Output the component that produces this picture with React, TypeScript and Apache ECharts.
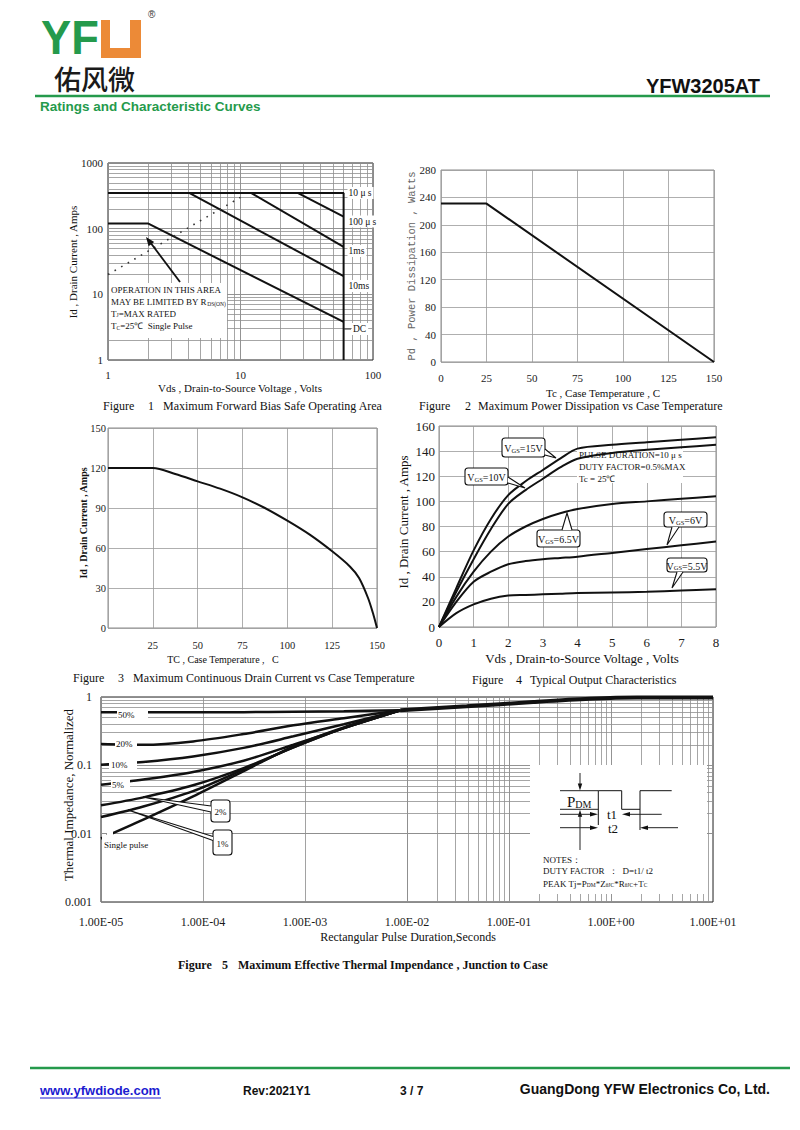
import React, { useEffect, useRef } from "react";
import * as echarts from "echarts";

const SERIF = '"Liberation Serif", "Times New Roman", serif';
const SANS = '"Liberation Sans", Arial, sans-serif';
const MONO = '"Liberation Mono", "DejaVu Sans Mono", monospace';
const GREEN = "#259a4c";
const ORANGE = "#ec8a37";

// ---------- Figure 1: Safe operating area (log / log) ----------
const f1XTicks = ["1", "10", "100"];
const f1YTicks = ["1", "10", "100", "1000"];
const f1TopX = [1, 60.5];
const f1TopY = [350, 350];
const f1Us10X = [27, 60];
const f1Us10Y = [350, 152];
const f1Us100X = [12, 60];
const f1Us100Y = [350, 53];
const f1Ms1X = [4.1, 60];
const f1Ms1Y = [350, 19];
const f1DcX = [1, 2, 60];
const f1DcY = [120, 120, 3.8];
const f1VX = [60, 60];
const f1VY = [1, 350];
const f1RdsX = [1, 10];
const f1RdsY = [20, 300];
const f1Labels = ["10 μ s", "100 μ s", "1ms", "10ms", "DC"];

// ---------- Figure 2: Power dissipation ----------
const f2XTicks = ["0", "25", "50", "75", "100", "125", "150"];
const f2Tc = [0, 25, 150];
const f2Pd = [231, 231, 0];

// ---------- Figure 3: Continuous drain current ----------
const f3XTicks = ["", "25", "50", "75", "100", "125", "150"];
const f3Tc = [0, 25, 37.5, 50, 62.5, 75, 87.5, 100, 112.5, 125, 135, 140, 145, 148, 150];
const f3Id = [120, 120, 115.5, 110, 104.5, 98, 90, 80.5, 70, 57.5, 46, 37.5, 22.5, 10, 0];

// ---------- Figure 4: Output characteristics ----------
const f4Vds = [0, 0.5, 1, 1.5, 2, 2.5, 3, 3.5, 4, 5, 6, 7, 8];
const f4Vgs15 = [0, 31, 61, 86, 105, 116, 125, 134, 142, 145, 147, 149, 151];
const f4Vgs10 = [0, 28, 54, 78, 98, 109, 118, 127, 134, 138.5, 141, 143, 145];
const f4Vgs65 = [0, 24, 44, 60, 72, 80, 86, 90.5, 94, 98, 100, 102, 104];
const f4Vgs6 = [0, 20, 36, 44, 50, 52.5, 54, 55, 56, 59, 62, 65, 68];
const f4Vgs55 = [0, 11, 18, 22.5, 25, 25.5, 26, 26.5, 27, 27.5, 28, 29, 30];

// ---------- Figure 5: Thermal impedance ----------
const f5XTicks = ["1.00E-05", "1.00E-04", "1.00E-03", "1.00E-02", "1.00E-01", "1.00E+00", "1.00E+01"];
const f5YTicks = ["0.001", "0.01", "0.1", "1"];
const f5T = [1e-5, 2.6e-5, 8e-5, 2.5e-4, 7.7e-4, 2.4e-3, 8.6e-3];
const f5D50 = [0.6, 0.6, 0.6, 0.6, 0.61, 0.62, 0.64];
const f5D20 = [0.205, 0.2, 0.224, 0.287, 0.385, 0.49, 0.64];
const f5D10 = [0.102, 0.112, 0.135, 0.18, 0.266, 0.4, 0.64];
const f5D5 = [0.052, 0.062, 0.08, 0.117, 0.2, 0.35, 0.64];
const f5D2 = [0.026, 0.034, 0.051, 0.091, 0.183, 0.35, 0.64];
const f5D1 = [0.0175, 0.025, 0.042, 0.087, 0.183, 0.35, 0.64];
const f5Single = [0.0085, 0.016, 0.035, 0.082, 0.19, 0.36, 0.64];
const f5TailT = [8.6e-3, 0.0385, 0.173, 0.62, 1.8, 10];
const f5TailZ = [0.64, 0.73, 0.845, 0.94, 0.98, 0.98];

const pairs = (xs: number[], ys: number[]) => xs.map((x, i) => [x, ys[i]]);

const logMinor = (lo: number, hi: number) => {
  const out: number[] = [];
  for (let d = lo; d < hi; d++) {
    for (let k = 1; k <= 9; k++) {
      if (k === 1 && d === lo) continue;
      out.push(k * Math.pow(10, d));
    }
  }
  return out;
};

const curve = (xi: number, xs: number[], ys: number[], extra: any = {}) => ({
  type: "line",
  xAxisIndex: xi,
  yAxisIndex: xi,
  data: pairs(xs, ys),
  symbol: "none",
  silent: true,
  z: 3,
  lineStyle: { color: "#111", width: 2 },
  ...extra,
});

const gridLines = (xi: number, xv: number[], yv: number[], color: string) => ({
  type: "line",
  xAxisIndex: xi,
  yAxisIndex: xi,
  data: [],
  silent: true,
  z: 1,
  markLine: {
    silent: true,
    z: 1,
    symbol: ["none", "none"],
    label: { show: false },
    emphasis: { disabled: true },
    lineStyle: { color, width: 0.8, type: "solid" },
    data: [...xv.map((v) => ({ xAxis: v })), ...yv.map((v) => ({ yAxis: v }))],
  },
});

const T = (x: number, y: number, text: string, o: any = {}) => ({
  type: "text",
  x,
  y,
  z: o.z ?? 10,
  rotation: o.rot ?? 0,
  scaleX: o.sx ?? 1,
  scaleY: o.sy ?? 1,
  silent: true,
  style: {
    text,
    x: 0,
    y: 0,
    fill: o.fill ?? "#111",
    fontSize: o.size ?? 11,
    fontFamily: o.family ?? SERIF,
    fontWeight: o.weight ?? "normal",
    lineHeight: o.lh,
    align: o.align ?? "left",
    textAlign: o.align ?? "left",
    verticalAlign: "middle",
    textVerticalAlign: "middle",
    rich: o.rich,
    backgroundColor: o.bg,
    padding: o.pad,
  },
});
const L = (x1: number, y1: number, x2: number, y2: number, w = 1, color = "#111", z = 10) => ({
  type: "line",
  z,
  silent: true,
  shape: { x1, y1, x2, y2 },
  style: { stroke: color, lineWidth: w },
});
const R = (x: number, y: number, w: number, h: number, fill: string, z = 5, extra: any = {}) => ({
  type: "rect",
  z,
  silent: true,
  shape: { x, y, width: w, height: h, r: extra.r ?? 0 },
  style: { fill, stroke: extra.stroke, lineWidth: extra.lw ?? 1 },
});
const PG = (pts: number[][], fill: string, z = 10) => ({
  type: "polygon",
  z,
  silent: true,
  shape: { points: pts },
  style: { fill, stroke: null },
});
const PL = (pts: number[][], w = 1, z = 10) => ({
  type: "polyline",
  z,
  silent: true,
  shape: { points: pts },
  style: { stroke: "#111", lineWidth: w, fill: null },
});

const subRich = (big: number, small: number) => ({
  a: { fontSize: big, fontFamily: SERIF, fill: "#111", lineHeight: big + 2, verticalAlign: "bottom" },
  s: { fontSize: small, fontFamily: SERIF, fill: "#111", lineHeight: big + 2, verticalAlign: "bottom" },
});

const callout = (box: number[], tip: number[], b1: number[], b2: number[], text: string, rich: any, textSize = 10) => [
  R(box[0], box[1], box[2], box[3], "#fff", 20, { stroke: "#111", lw: 1.1, r: 3 }),
  PG([b1, tip, b2], "#fff", 21),
  PL([b1, tip, b2], 1.1, 22),
  T(box[0] + box[2] / 2, box[1] + box[3] / 2, text, { align: "center", rich, z: 23, size: textSize }),
];

const arrowHead = (tip: number[], dir: number[], len = 8, half = 3) => {
  const n = Math.hypot(dir[0], dir[1]);
  const ux = dir[0] / n, uy = dir[1] / n;
  const bx = tip[0] - ux * len, by = tip[1] - uy * len;
  return [tip, [bx + uy * half, by - ux * half], [bx - uy * half, by + ux * half]];
};

export default function App() {
  const ref = useRef<HTMLDivElement>(null);
  useEffect(() => {
    if (!ref.current) return;
    const chart = echarts.init(ref.current, undefined, { renderer: "svg" });

    const lbl = (size: number, extra: any = {}) => ({
      fontFamily: SERIF,
      fontSize: size,
      color: "#1a1a1a",
      showMinLabel: true,
      showMaxLabel: true,
      ...extra,
    });
    const noLine = { axisLine: { show: false }, axisTick: { show: false } };
    const lin = (min: number, max: number, interval: number, size: number, margin: number, extra: any = {}) => ({
      type: "value",
      min,
      max,
      interval,
      ...noLine,
      splitLine: { show: true, lineStyle: { color: "#9a9a9a", width: 0.8 } },
      axisLabel: lbl(size, { margin, ...(extra.label || {}) }),
      gridIndex: extra.gridIndex,
    });
    const logAx = (min: number, max: number, ticks: string[], size: number, margin: number, gridIndex: number) => ({
      type: "log",
      logBase: 10,
      min,
      max,
      gridIndex,
      ...noLine,
      splitLine: { show: true, lineStyle: { color: "#8a8a8a", width: 0.8 } },
      axisLabel: lbl(size, {
        margin,
        formatter: (v: number) => ticks[Math.round(Math.log10(v) - Math.log10(min))] ?? "",
      }),
    });

    const f1Labs = [193, 221.5, 251, 286, 329];
    const f1Lab = f1Labels.map((t, i) =>
      T(i === 4 ? 352 : 347.5, f1Labs[i], t, { size: 9.5, bg: "#fff", pad: [1, 2, 1, 1], z: 8 })
    );

    const graphics: any[] = [
      // ---------- header ----------
      T(41, 38, "YF", { family: SANS, weight: "bold", size: 40, sx: 1.13, sy: 1.18, fill: GREEN }),
      R(101, 20, 40, 38, ORANGE, 10),
      R(110, 20, 20, 28, "#fff", 11),
      T(148, 14, "®", { family: SANS, size: 10, fill: "#333" }),
      T(54, 78, "佑风微", { family: '"Noto Sans CJK SC", sans-serif', size: 27, fill: "#1a1a1a", weight: 500 }),
      T(760, 86, "YFW3205AT", { family: SANS, weight: "bold", size: 20, align: "right", fill: "#111" }),
      L(35, 96, 770, 96, 2.5, GREEN),
      T(40, 106, "Ratings and Characteristic Curves", { family: SANS, weight: "bold", size: 13.5, fill: GREEN }),

      // ---------- footer ----------
      L(30, 1068, 790, 1068, 2.5, GREEN),
      T(40, 1090, "www.yfwdiode.com", { family: SANS, weight: "bold", size: 13, fill: "#1b1bd0" }),
      L(40, 1098, 161, 1098, 1, "#1b1bd0"),
      T(243, 1091, "Rev:2021Y1", { family: SANS, weight: "bold", size: 12 }),
      T(400, 1091, "3 / 7", { family: SANS, weight: "bold", size: 12 }),
      T(770, 1089, "GuangDong YFW Electronics Co, Ltd.", { family: SANS, weight: "bold", size: 14, align: "right" }),

      // ---------- figure 1 ----------
      T(73, 262, "Id , Drain Current , Amps", { size: 11, rot: Math.PI / 2, align: "center" }),
      T(240, 388, "Vds , Drain-to-Source Voltage , Volts", { size: 11, align: "center" }),
      T(103, 406, "Figure", { size: 12 }),
      T(148, 406, "1", { size: 12 }),
      T(163, 406, "Maximum Forward Bias Safe Operating Area", { size: 12 }),
      ...f1Lab,
      L(344, 329, 351, 329, 1, "#333", 9),
      R(109, 283, 118, 55, "#fff", 5),
      T(111, 289.5, "OPERATION IN THIS AREA", { size: 9 }),
      T(111, 301, "{a|MAY BE LIMITED BY R}{s|DS(ON)}", { rich: subRich(9, 5.5) }),
      T(111, 312.5, "{a|T}{s|J}{a|=MAX RATED}", { rich: subRich(9, 5.5) }),
      T(111, 325, "{a|T}{s|C}{a|=25℃  Single Pulse}", { rich: subRich(9, 5.5) }),
      L(180, 282, 150, 242, 1.8, "#111", 9),
      PG(arrowHead([146, 237], [-33, -44], 9, 3.5), "#111", 9),

      // ---------- figure 2 ----------
      T(412, 266, "Pd , Power Dissipation , Watts", { size: 10.5, family: MONO, fill: "#666", rot: Math.PI / 2, align: "center" }),
      T(603, 393, "Tc , Case Temperature , C", { size: 11, align: "center" }),
      T(419, 406, "Figure", { size: 12 }),
      T(465, 406, "2", { size: 12 }),
      T(478, 406, "Maximum Power Dissipation vs Case Temperature", { size: 12 }),

      // ---------- figure 3 ----------
      T(83, 523, "Id , Drain Current , Amps", { size: 10, weight: "bold", rot: Math.PI / 2, align: "center" }),
      T(223, 659, "TC , Case Temperature ,   C", { size: 10, align: "center" }),
      T(73, 678, "Figure", { size: 12 }),
      T(118, 678, "3", { size: 12 }),
      T(133, 678, "Maximum Continuous Drain Current vs Case Temperature", { size: 12 }),

      // ---------- figure 4 ----------
      T(403, 522, "Id , Drain Current , Amps", { size: 13, rot: Math.PI / 2, align: "center" }),
      T(582, 658, "Vds , Drain-to-Source Voltage , Volts", { size: 13, align: "center" }),
      T(472, 680, "Figure", { size: 12 }),
      T(516, 680, "4", { size: 12 }),
      T(530, 680, "Typical Output Characteristics", { size: 12 }),
      R(577, 449, 106, 34, "#fff", 2),
      T(579, 455, "PULSE DURATION=10 μ s", { size: 9 }),
      T(579, 467, "DUTY FACTOR=0.5%MAX", { size: 9 }),
      T(579, 478.5, "Tc = 25℃", { size: 9 }),
      ...callout([502, 438, 43, 19], [556, 458], [545, 449], [545, 455], "{a|V}{s|GS}{a|=15V}", subRich(10, 6.5)),
      ...callout([465, 468, 43, 17], [525, 488], [508, 477], [508, 483], "{a|V}{s|GS}{a|=10V}", subRich(10, 6.5)),
      ...callout([537, 530, 43, 17], [567, 513], [572, 530], [562, 530], "{a|V}{s|GS}{a|=6.5V}", subRich(10, 6.5)),
      ...callout([664, 512, 43, 15], [667, 545], [672, 527], [679, 527], "{a|V}{s|GS}{a|=6V}", subRich(10, 6.5)),
      ...callout([667, 558, 40, 14], [672, 588], [677, 572], [683, 572], "{a|V}{s|GS}{a|=5.5V}", subRich(10, 6.5)),

      // ---------- figure 5 ----------
      T(68, 795, "Thermal Impedance, Normalized", { size: 13, rot: Math.PI / 2, align: "center" }),
      T(408, 937, "Rectangular Pulse Duration,Seconds", { size: 12, align: "center" }),
      T(178, 965, "Figure", { size: 12, weight: "bold" }),
      T(222, 965, "5", { size: 12, weight: "bold" }),
      T(238, 965, "Maximum Effective Thermal Impendance , Junction to Case", { size: 12, weight: "bold" }),
      R(117, 709, 31, 11, "#fff", 6),
      T(118, 715, "50%", { size: 9, z: 7 }),
      R(115, 738, 22, 12, "#fff", 6),
      T(116, 744, "20%", { size: 9, z: 7 }),
      R(109, 759, 28, 12, "#fff", 6),
      T(111, 765, "10%", { size: 9, z: 7 }),
      R(111, 779, 19, 12, "#fff", 6),
      T(112, 785, "5%", { size: 9, z: 7 }),
      R(102, 835, 68, 20, "#fff", 6),
      R(107, 830, 6, 12, "#fff", 6),
      T(104, 845, "Single pulse", { size: 9, z: 7 }),
      ...callout([211, 800, 19, 22], [143, 797], [211, 806], [211, 812], "{a|2%}", subRich(9, 6), 9),
      ...callout([213, 830, 19, 25], [128, 810], [213, 836.5], [213, 840.5], "{a|1%}", subRich(9, 6), 9),
      // inset
      R(530, 765, 177, 129, "#fff", 6),
      L(560, 790.7, 598.3, 790.7, 1, "#222", 12),
      PL([[598.3, 825], [598.3, 790.7], [621.7, 790.7], [621.7, 809.3], [640, 809.3]], 1, 12),
      PL([[640, 830], [640, 790.7], [671.7, 790.7]], 1, 12),
      L(560, 809.3, 598.3, 809.3, 1, "#222", 12),
      L(580, 773, 580, 785, 1, "#222", 12),
      PG(arrowHead([580, 790.5], [0, 1], 7, 2.2), "#111", 12),
      L(580, 815, 580, 850, 1, "#222", 12),
      PG(arrowHead([580, 809.8], [0, -1], 7, 2.2), "#111", 12),
      L(560, 814.3, 592, 814.3, 1, "#222", 12),
      PG(arrowHead([598, 814.3], [1, 0], 8, 2.2), "#111", 12),
      L(628, 814.3, 661.7, 814.3, 1, "#222", 12),
      PG(arrowHead([622, 814.3], [-1, 0], 8, 2.2), "#111", 12),
      L(560, 827.7, 592, 827.7, 1, "#222", 12),
      PG(arrowHead([598, 827.7], [1, 0], 8, 2.2), "#111", 12),
      L(646, 827.7, 678, 827.7, 1, "#222", 12),
      PG(arrowHead([640, 827.7], [-1, 0], 8, 2.2), "#111", 12),
      T(567, 801, "{a|P}{s|DM}", { rich: subRich(15, 10), z: 12 }),
      T(607, 814, "t1", { size: 13, z: 12 }),
      T(608, 828, "t2", { size: 13, z: 12 }),
      T(543, 859.5, "NOTES：", { size: 9, z: 12 }),
      T(543, 871, "DUTY FACTOR  ：  D=t1/ t2", { size: 9, z: 12 }),
      T(543, 882.5, "{a|PEAK Tj=P}{s|DM}{a|*Z}{s|θJC}{a|*R}{s|θJC}{a|+T}{s|C}", { rich: subRich(9, 5.5), z: 12 }),
    ];

    const option: any = {
      animation: false,
      grid: [
        { left: 108, top: 163, width: 265, height: 197, show: true, borderColor: "#222", borderWidth: 1, backgroundColor: "transparent" },
        { left: 441, top: 170, width: 273, height: 192, show: true, borderColor: "#8a8a8a", borderWidth: 1, backgroundColor: "transparent" },
        { left: 108, top: 428, width: 269, height: 200, show: true, borderColor: "#8a8a8a", borderWidth: 1, backgroundColor: "transparent" },
        { left: 439, top: 426, width: 277, height: 201, show: true, borderColor: "#8a8a8a", borderWidth: 1, backgroundColor: "transparent" },
        { left: 101, top: 697, width: 612, height: 205, show: true, borderColor: "#222", borderWidth: 1, backgroundColor: "transparent" },
      ],
      xAxis: [
        logAx(1, 100, f1XTicks, 11, 9, 0),
        { ...lin(0, 150, 25, 11, 10, { gridIndex: 1 }), axisLabel: lbl(11, { margin: 10, formatter: (v: number) => f2XTicks[Math.round(v / 25)] }) },
        { ...lin(0, 150, 25, 10.5, 12, { gridIndex: 2 }), axisLabel: lbl(10.5, { margin: 12, formatter: (v: number) => f3XTicks[Math.round(v / 25)] }) },
        lin(0, 8, 1, 13, 9, { gridIndex: 3 }),
        logAx(1e-5, 10, f5XTicks, 12, 14, 4),
      ],
      yAxis: [
        logAx(1, 1000, f1YTicks, 11, 5, 0),
        lin(0, 280, 40, 11, 5, { gridIndex: 1 }),
        lin(0, 150, 30, 10.5, 2, { gridIndex: 2 }),
        lin(0, 160, 20, 13, 4, { gridIndex: 3 }),
        logAx(0.001, 1, f5YTicks, 12, 9, 4),
      ],
      series: [
        // fig 1
        gridLines(0, logMinor(0, 2), logMinor(0, 3), "#8f8f8f"),
        curve(0, f1TopX, f1TopY),
        curve(0, f1Us10X, f1Us10Y),
        curve(0, f1Us100X, f1Us100Y),
        curve(0, f1Ms1X, f1Ms1Y),
        curve(0, f1DcX, f1DcY),
        curve(0, f1VX, f1VY),
        curve(0, f1RdsX, f1RdsY, { lineStyle: { color: "#333", width: 1.6, type: [1.6, 6] } }),
        // fig 2
        curve(1, f2Tc, f2Pd),
        // fig 3
        curve(2, f3Tc, f3Id, { smooth: 0.3 }),
        // fig 4
        curve(3, f4Vds, f4Vgs15, { smooth: 0.3 }),
        curve(3, f4Vds, f4Vgs10, { smooth: 0.3 }),
        curve(3, f4Vds, f4Vgs65, { smooth: 0.3 }),
        curve(3, f4Vds, f4Vgs6, { smooth: 0.3 }),
        curve(3, f4Vds, f4Vgs55, { smooth: 0.3 }),
        // fig 5
        gridLines(4, logMinor(-5, 1), logMinor(-3, 0), "#8f8f8f"),
        curve(4, f5T, f5D50, { smooth: 0.3, lineStyle: { color: "#111", width: 2.5 } }),
        curve(4, f5T, f5D20, { smooth: 0.3, lineStyle: { color: "#111", width: 2.5 } }),
        curve(4, f5T, f5D10, { smooth: 0.3, lineStyle: { color: "#111", width: 2.5 } }),
        curve(4, f5T, f5D5, { smooth: 0.3, lineStyle: { color: "#111", width: 2.5 } }),
        curve(4, f5T, f5D2, { smooth: 0.3, lineStyle: { color: "#111", width: 2.5 } }),
        curve(4, f5T, f5D1, { smooth: 0.3, lineStyle: { color: "#111", width: 2.5 } }),
        curve(4, f5T, f5Single, { smooth: 0.3, lineStyle: { color: "#111", width: 2.5 } }),
        curve(4, f5TailT, f5TailZ, { smooth: 0.3, lineStyle: { color: "#111", width: 4 } }),
      ],
      graphic: graphics,
    };
    chart.setOption(option);
    return () => chart.dispose();
  }, []);

  return (
    <div
      ref={ref}
      style={{ position: "absolute", left: 0, top: 0, width: 800, height: 1130, background: "#fff" }}
    />
  );
}
